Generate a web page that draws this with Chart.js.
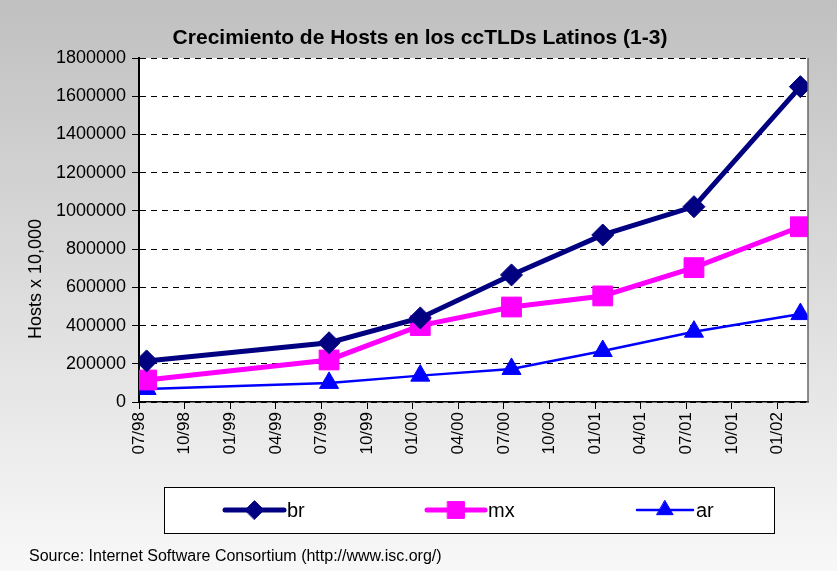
<!DOCTYPE html>
<html>
<head>
<meta charset="utf-8">
<script src="https://cdn.jsdelivr.net/npm/chart.js@4"></script>
<style>
  html, body { margin: 0; padding: 0; background: #fff; }
  #wrap { width: 837px; height: 571px; }
</style>
</head>
<body>
<div id="wrap"><canvas id="myChart" width="837" height="571"></canvas></div>
<script>
// survey dates (year, month) of the ISC counts
const surveyDates = [[1998, 7], [1999, 7], [2000, 1], [2000, 7], [2001, 1], [2001, 7], [2002, 2]];
const brHosts = [215000, 310000, 440000, 665000, 874000, 1022000, 1650000];
const mxHosts = [115000, 220000, 400000, 497000, 555000, 703000, 917000];
const arHosts = [68000, 100000, 138000, 173000, 267000, 368000, 460000];
const yTicks = [0, 200000, 400000, 600000, 800000, 1000000, 1200000, 1400000, 1600000, 1800000];

const START_YEAR = 1998, START_MONTH = 7;

// months since 07/98, points sit mid-month
function monthIndex(d) {
    return (d[0] - START_YEAR) * 12 + (d[1] - START_MONTH) + 0.5;
}
function monthLabel(m) {
    const total = START_MONTH - 1 + m;
    const mm = (total % 12) + 1;
    const yy = (START_YEAR + Math.floor(total / 12)) % 100;
    return String(mm).padStart(2, '0') + '/' + String(yy).padStart(2, '0');
}
function toPoints(values) {
    return values.map((v, i) => ({ x: monthIndex(surveyDates[i]), y: v }));
}

const FONT = 'Arial, "Liberation Sans", sans-serif';

const series = [
    { label: 'br', data: toPoints(brHosts), color: '#000080', width: 5, style: 'rectRot', radius: 11 },
    { label: 'mx', data: toPoints(mxHosts), color: '#ff00ff', width: 5, style: 'rect', radius: 14 },
    { label: 'ar', data: toPoints(arHosts), color: '#0000ff', width: 2.5, style: 'triangle', radius: 11 }
];

const decorPlugin = {
    id: 'decor',
    beforeDraw(chart) {
        const ctx = chart.ctx;
        const a = chart.chartArea;
        ctx.save();
        const g = ctx.createLinearGradient(0, 0, 0, chart.height);
        g.addColorStop(0, '#c0c0c0');
        g.addColorStop(1, '#f8f8f8');
        ctx.fillStyle = g;
        ctx.fillRect(0, 0, chart.width, chart.height);
        ctx.fillStyle = '#ffffff';
        ctx.fillRect(a.left, a.top, a.right - a.left, a.bottom - a.top);
        ctx.restore();
    },
    afterDatasetsDraw(chart) {
        const ctx = chart.ctx;
        const a = chart.chartArea;
        ctx.save();
        // right border of plot area
        ctx.strokeStyle = '#666666';
        ctx.lineWidth = 1.5;
        ctx.beginPath();
        ctx.moveTo(a.right, a.top);
        ctx.lineTo(a.right, a.bottom);
        ctx.stroke();
        ctx.restore();
    },
    afterDraw(chart) {
        const ctx = chart.ctx;
        ctx.save();
        // title
        ctx.fillStyle = '#000';
        ctx.font = 'bold 21px ' + FONT;
        ctx.textAlign = 'center';
        ctx.textBaseline = 'middle';
        ctx.fillText('Crecimiento de Hosts en los ccTLDs Latinos (1-3)', 420, 38);

        // y axis title
        ctx.save();
        ctx.translate(36, 279);
        ctx.rotate(-Math.PI / 2);
        ctx.font = '18px ' + FONT;
        ctx.fillText('Hosts x 10,000', 0, 0);
        ctx.restore();

        // legend box
        ctx.fillStyle = '#ffffff';
        ctx.fillRect(164, 487, 610, 46);
        ctx.strokeStyle = '#000';
        ctx.lineWidth = 1;
        ctx.strokeRect(164.5, 487.5, 610, 46);

        const items = [[225, 284], [427, 485], [637, 693]];
        const ly = 510;
        series.forEach((s, i) => {
            const [x0, x1] = items[i];
            ctx.strokeStyle = s.color;
            ctx.lineWidth = s.width;
            ctx.lineCap = 'round';
            ctx.beginPath();
            ctx.moveTo(x0, ly);
            ctx.lineTo(x1, ly);
            ctx.stroke();
            ctx.fillStyle = s.color;
            ctx.strokeStyle = s.color;
            ctx.lineWidth = 1;
            Chart.helpers.drawPoint(ctx, { pointStyle: s.style, radius: s.radius * 0.85, borderWidth: 1 }, (x0 + x1) / 2, ly);
            ctx.fillStyle = '#000';
            ctx.font = '20px ' + FONT;
            ctx.textAlign = 'left';
            ctx.textBaseline = 'middle';
            ctx.fillText(s.label, x1 + 3, ly + 1);
        });

        // source note
        ctx.fillStyle = '#000';
        ctx.font = '16px ' + FONT;
        ctx.textAlign = 'left';
        ctx.fillText('Source: Internet Software Consortium (http://www.isc.org/)', 29, 557);
        ctx.restore();
    }
};

const ctx = document.getElementById('myChart').getContext('2d');

const chartInstance = new Chart(ctx, {
    type: 'line',
    data: {
        datasets: series.map(s => ({
            label: s.label,
            data: s.data,
            borderColor: s.color,
            backgroundColor: s.color,
            borderWidth: s.width,
            pointStyle: s.style,
            pointRadius: s.radius,
            pointBorderWidth: 1,
            pointBackgroundColor: s.color,
            pointBorderColor: s.color,
            tension: 0,
            fill: false
        }))
    },
    options: {
        responsive: false,
        animation: false,
        layout: { padding: { left: 0, top: 58, right: 29, bottom: 0 } },
        plugins: {
            legend: { display: false },
            title: { display: false },
            tooltip: { enabled: false }
        },
        scales: {
            x: {
                type: 'linear',
                min: 0,
                max: 44,
                afterBuildTicks(scale) {
                    const t = [];
                    for (let m = 0; m <= 42; m += 3) t.push({ value: m });
                    scale.ticks = t;
                },
                afterFit(scale) { scale.height = 169; },
                grid: {
                    drawOnChartArea: false,
                    drawTicks: true,
                    tickLength: 7,
                    tickColor: '#000',
                    tickWidth: 1
                },
                border: { color: '#000', width: 1.5 },
                ticks: {
                    minRotation: 90,
                    maxRotation: 90,
                    padding: 3,
                    color: '#000',
                    font: { family: FONT, size: 17 },
                    callback: v => monthLabel(v)
                }
            },
            y: {
                min: 0,
                max: 1800000,
                afterBuildTicks(scale) {
                    scale.ticks = yTicks.map(v => ({ value: v }));
                },
                afterFit(scale) { scale.width = 139; },
                grid: {
                    color: '#000',
                    lineWidth: 1,
                    drawTicks: true,
                    tickLength: 7,
                    tickColor: '#000',
                    tickBorderDash: []
                },
                border: { color: '#000', width: 2, dash: [6, 5] },
                ticks: {
                    padding: 6,
                    color: '#000',
                    font: { family: FONT, size: 18 },
                    callback: v => String(v)
                }
            }
        }
    },
    plugins: [decorPlugin]
});
</script>
</body>
</html>
